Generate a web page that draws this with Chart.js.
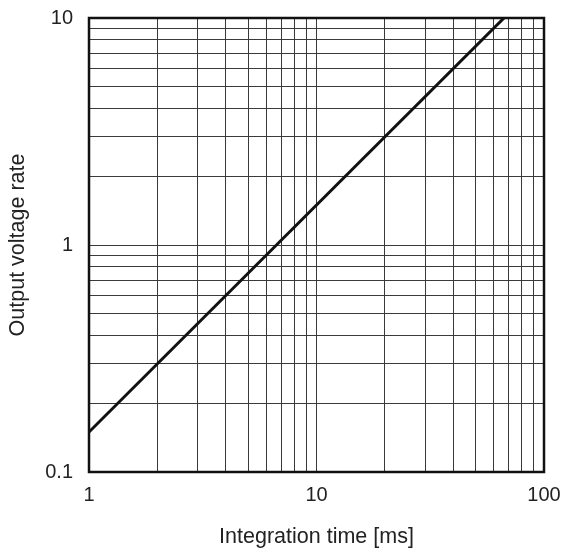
<!DOCTYPE html>
<html>
<head>
<meta charset="utf-8">
<script src="https://cdn.jsdelivr.net/npm/chart.js@4"></script>
<style>
html,body{margin:0;padding:0;background:#fff;}
#wrap{width:565px;height:552px;}
</style>
</head>
<body>
<div id="wrap"><canvas id="c" width="565" height="552"></canvas></div>
<script>
// Data
const integrationTime = [1, 66.7];
const outputVoltageRate = [0.15, 10];
// Axis ticks
const xGridTicks = [1,2,3,4,5,6,7,8,9,10,20,30,40,50,60,70,80,90,100];
const yGridTicks = [0.1,0.2,0.3,0.4,0.5,0.6,0.7,0.8,0.9,1,2,3,4,5,6,7,8,9,10];
const xTickLabels = [1, 10, 100];
const yTickLabels = [0.1, 1, 10];
const xTitle = 'Integration time [ms]';
const yTitle = 'Output voltage rate';

const fam = '"Liberation Sans", Arial, Helvetica, sans-serif';
const tickFont = {family: fam, size: 20};
const titleFont = {family: fam, size: 21.5};
const textColor = '#222';

const borderPlugin = {
  id: 'frame',
  afterDatasetsDraw(chart) {
    const a = chart.chartArea, ctx = chart.ctx;
    ctx.save();
    ctx.strokeStyle = '#111';
    ctx.lineWidth = 2.5;
    ctx.strokeRect(a.left, a.top, a.right - a.left, a.bottom - a.top);
    ctx.restore();
  }
};

new Chart(document.getElementById('c'), {
  type: 'scatter',
  data: {
    datasets: [{
      data: integrationTime.map((x, i) => ({x, y: outputVoltageRate[i]})),
      showLine: true,
      borderColor: '#111',
      borderWidth: 3,
      pointRadius: 0,
      fill: false
    }]
  },
  options: {
    responsive: false,
    animation: false,
    layout: {padding: {top: 18, right: 21, left: 0, bottom: 0}},
    plugins: {legend: {display: false}, tooltip: {enabled: false}},
    scales: {
      x: {
        type: 'logarithmic',
        min: 1, max: 100,
        afterBuildTicks(s) { s.ticks = xGridTicks.map(v => ({value: v})); },
        afterFit(s) { s.height = 80; s.paddingLeft = 0; s.paddingRight = 0; },
        ticks: {
          autoSkip: false, maxRotation: 0, padding: 11,
          font: tickFont, color: textColor,
          callback: v => xTickLabels.includes(v) ? String(v) : ''
        },
        grid: {color: '#3a3a3a', lineWidth: 1, drawTicks: false},
        border: {display: false},
        title: {display: true, text: xTitle, font: titleFont, color: textColor, padding: {top: 0, bottom: 2}}
      },
      y: {
        type: 'logarithmic',
        min: 0.1, max: 10,
        afterBuildTicks(s) { s.ticks = yGridTicks.map(v => ({value: v})); },
        afterFit(s) { s.width = 89; s.paddingTop = 0; s.paddingBottom = 0; },
        ticks: {
          autoSkip: false, padding: 16,
          font: tickFont, color: textColor,
          callback: v => yTickLabels.includes(v) ? String(v) : ''
        },
        grid: {color: '#3a3a3a', lineWidth: 1, drawTicks: false},
        border: {display: false},
        title: {display: true, text: yTitle, font: titleFont, color: textColor, padding: {top: 5, bottom: 0}}
      }
    }
  },
  plugins: [borderPlugin]
});
</script>
</body>
</html>
